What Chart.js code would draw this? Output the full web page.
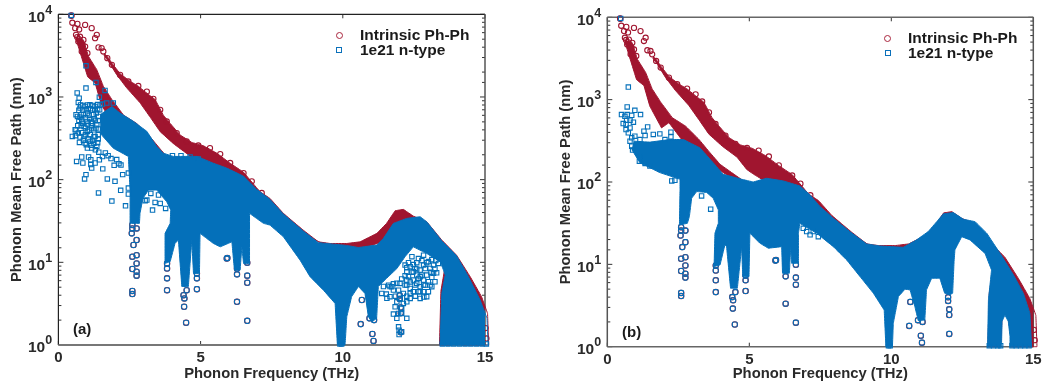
<!DOCTYPE html>
<html>
<head>
<meta charset="utf-8">
<script src="https://cdn.jsdelivr.net/npm/chart.js@4"></script>
<style>
html, body { margin: 0; padding: 0; background: #fff; }
body { position: relative; width: 1045px; height: 391px; overflow: hidden; font-family: "Liberation Sans", Arial, sans-serif; font-weight: bold; color: #1a1a1a; }
canvas { position: absolute; top: 0; }
#plotA { left: 0; }
#plotB { left: 525px; }
.txt { position: absolute; white-space: nowrap; line-height: 16px; font-size: 15.5px; }
.mark { position: absolute; box-sizing: border-box; }
.circ { width: 7px; height: 7px; border: 1.3px solid #a8243c; border-radius: 50%; }
.sq { width: 6px; height: 6px; border: 1.3px solid #0a70ba; }
</style>
</head>
<body>
<canvas id="plotA" width="525" height="391"></canvas>
<canvas id="plotB" width="520" height="391"></canvas>

<span class="mark circ" style="left:336px;top:32px"></span>
<span class="txt" style="left:360px;top:27px">Intrinsic Ph-Ph</span>
<span class="mark sq" style="left:336px;top:47px"></span>
<span class="txt" style="left:360px;top:42px">1e21 n-type</span>
<span class="txt" style="left:73px;top:321px;font-size:15px">(a)</span>

<span class="mark circ" style="left:884px;top:35px"></span>
<span class="txt" style="left:908px;top:30px">Intrinsic Ph-Ph</span>
<span class="mark sq" style="left:885px;top:50px"></span>
<span class="txt" style="left:908px;top:45px">1e21 n-type</span>
<span class="txt" style="left:622px;top:324px;font-size:15px">(b)</span>

<script>
// [frequency THz, mean free path nm]
var yTickExponents = {1: "0", 10: "1", 100: "2", 1000: "3", 10000: "4"};

// intrinsic curve is the same in both panels
var redUpperBand = [
  [1.6,3400],[1.72,3090],[1.88,2570],[2.17,1910],[2.52,1550],[2.81,1350],[3.17,1070],[3.40,933],[3.69,603],[3.93,479],
  [4.28,347],[4.69,282],[5.10,257],[5.57,209],[6.04,158],[6.51,123],[6.98,79],[7.09,71.4],[7.44,59.3],[7.91,39.1],
  [8.26,30.9],[8.61,24.5],[9.14,17.7],[9.55,16.9],[10.14,16.9],[10.61,17.7],[11.2,22.4],[11.54,29.6],[11.84,42.1],
  [12.13,43.7],[12.48,36.2],[12.95,31],[13.48,18.6],[14.0,12.2],[14.48,6.7],[14.88,3.84],[15.09,2.41],[15.13,1],
  [14.2,1],[14.2,1.4],[14.12,2.2],[14,2.6],[13.9,2.2],[13.85,1],
  [13.4,1],[13.45,4.5],[13.6,9],[13.3,15],[12.5,24],[11,16],[10,12],[8,30],[7,50],[6,80],[5.6,100],
  [5.14,125],[4.91,142],[4.57,200],[4.06,270],[3.58,380],[3.22,575],[2.87,851],[2.4,1290],[2.05,1860],[1.76,2690],[1.6,3200]
];
var redLowerBand = [
  [.6,5300],[.88,4900],[1.06,3090],[1.35,2140],[1.58,1350],[1.88,933],[2.29,603],[2.75,479],[3.22,331],[3.62,226],[3.97,164],
  [4.38,130],[4.73,107],[4.73,95],[3.0,220],[2.17,525],[1.91,454],[1.5,830],[1.29,1480],[1.03,1750],[.74,3670],[.62,5000]
];
var redDots = [
  [.45,9700],[.46,9600],[.49,7900],[.67,7650],[.94,7440],[1.17,6800],[.59,6800],[.73,6550],[1.35,5650],[1.29,5150],
  [1.52,3900],[1.41,3980],[1.58,3550],[1.72,2950],[1.88,2450],[.62,5650],[.76,5350],[.70,4680],[.88,4900],[.94,4070],
  [.82,3550],[1.02,3390],[.66,5300],[.72,5000],[.85,4300],
  [2.17,1850],[2.46,1540],[2.81,1360],[3.11,1160],[3.34,950],[3.58,700],[3.81,506],[4.16,366],[4.51,290],[4.92,259],
  [5.33,241],[5.69,204],[6.04,159],[6.51,120],[6.8,95.5],[7.15,69],[15.02,1.6],[15.05,1.2]
];
// isolated modes where both series sit on top of each other
var lowDots = [
  [2.6,28.3],[2.6,25.7],[2.75,25.7],[2.58,22.4],[2.75,18.6],[2.64,16.2],[2.75,12.2],[2.6,11.7],[2.75,9.7],[2.6,8.3],
  [2.75,7.7],[2.75,6.9],[2.6,4.5],[2.6,4.13],
  [3.82,4.6],[3.82,6.4],[3.82,8.4],[3.82,9.7],
  [4.42,2.9],[4.43,3.66],[4.49,1.86],[4.51,4.6],[4.4,4.0],
  [4.87,4.74],[4.87,6.4],[4.87,7.3],
  [6.28,3.33],[6.28,7.15],[6.28,8.4],[6.28,10.2],
  [6.64,1.96],[6.64,5.66],[6.64,6.9],[6.64,9.9],
  [5.92,11.1],[5.94,11.3],
  [10.67,3.5],[10.63,1.79],[11.04,1.36],[11.08,1.12],[10.94,2.1],[11.1,2.0],
  [12.0,3.98],[12.0,3.6],[12.04,2.84],[12.04,2.43],[12.04,1.43]
];

// panel (a)
var blueCloudA = [
  [1.47,610],[1.88,767],[2.17,638],[2.64,506],[3.11,384],[3.46,251],[3.69,209],[4.04,191],[4.87,191],[5.45,158],
  [5.92,138],[6.51,110],[6.98,76],[7.44,57.7],[7.91,38.4],[8.61,23.9],[9.14,17.3],[10.14,16],[10.55,15.1],[11.2,16.2],
  [11.43,19.5],[11.78,29.6],[12.25,34],[12.72,35.6],[12.95,31],[13.48,18.2],[14.0,12],[14.36,7.3],[14.83,3.5],[15.07,2.1],
  [15.11,1],[13.42,1],[13.48,4.2],[13.6,7],[13.54,8.05],[13.42,10.2],[12.95,12.8],[12.48,15.4],[12.19,11.7],[11.9,8.4],
  [11.54,6.4],[11.25,5.1],[11.19,2.1],[11.02,1.9],[10.9,2.2],[10.78,4.2],[10.55,5.1],[10.31,3.84],[10.14,2.2],[10.08,1],
  [9.81,1],[9.73,3.18],[9.32,4.6],[8.85,6.7],[8.5,10.6],[7.91,20.4],[7.44,28.2],[7.21,29.6],[6.72,39.1],[6.72,9.7],
  [6.51,9.7],[6.45,15.5],[6.39,8.05],[6.19,8.05],[6.1,17.7],[5.69,15.4],[5.45,16.9],[4.98,22.4],[4.96,7.3],[4.75,7.3],
  [4.69,18.6],[4.57,5.1],[4.34,5.1],[4.22,18.6],[4.1,16.9],[3.93,10.2],[3.75,9.7],[3.75,22.4],[3.93,29.6],[3.95,42.9],
  [3.81,54],[3.46,74.8],[3.17,74.8],[2.97,59.3],[2.87,39.1],[2.85,29.6],[2.52,29.6],[2.52,74.8],[2.46,191],[1.93,240],[1.47,363]
];
var blueDotsA = [
  [.45,9700],[.97,2380],[1.32,1500],[1.64,1200],[.97,1280],[1.44,995],[.66,1120],[.73,968],[.70,859],[.76,733],[.62,610],
  [.67,582],[.82,530],[.94,767],[1.11,803],[1.29,767],[1.47,803],[1.7,843],[1.93,843],[1.02,638],[1.23,610],[1.41,582],
  [.88,610],[1.0,506],[1.17,506],[1.35,461],[.59,402],[.70,366],[.49,333],[.6,340],[.76,327],[.74,282],[.9,333],[1.02,383],
  [1.17,421],[.94,277],[1.11,290],[1.29,333],[1.02,241],[1.17,241],[1.35,252],[.82,188],[1.06,188],[.64,166],[.86,159],
  [1.14,174],[1.44,174],[1.29,159],[1.14,152],[1.17,138],[1.56,135],[1.96,149],[2.13,156],[.97,115],[.92,102],[1.72,102],
  [1.99,95.5],[2.26,115],[2.46,120],[1.41,69],[2.19,74.3],[2.46,79],[1.88,55],[2.36,48.3],[2.46,67],
  [3.11,56.6],[3.4,53],[3.58,51.6],[3.31,42.9],[3.77,44.9],[3.25,68.2],[3.52,65.2],[3.05,55.6],
  [4.01,195],[4.31,195],[4.63,188],[4.92,178],[.85,700],[1.05,720],[1.2,690],[1.38,700],[1.3,520],[1.15,450],[.95,420],
  [.8,450],[.72,520],[1.25,400],[1.4,310],[1.25,275],
  [.78,800],[.86,790],[1.02,800],[1.2,790],[1.38,810],[1.55,820],[.72,690],[.98,700],[1.12,720],[1.28,705],[1.45,700],
  [.8,610],[1.08,600],[1.33,640],[.76,570],[.95,560],[1.1,550],[1.25,545],[1.4,520],[.85,480],[1.02,470],[1.2,480],
  [1.32,420],[.68,450],[.9,440],[1.08,400],[1.4,410],[.62,400],[.82,370],[.95,350],[1.12,350],[1.25,330],[1.4,350],
  [.88,300],[1.05,310],[1.2,300],[1.38,280],[.98,265],[1.15,260],[1.3,230],[1.42,215],[1.55,190],[1.65,210],[1.75,195],
  [1.85,180],[2.05,175],[2.2,150],
  [11.37,4.2],[11.61,5.3],[11.43,5.1],[11.55,3.67],[11.53,4.13],[11.78,4.61],[11.72,5.07],[11.9,3.33],[11.84,2.9],[12.01,3.66],
  [12.25,3.33],[12.37,3.66],[12.07,2.77],[11.96,2.41],[11.78,2.37],[11.9,2.1],[12.07,2.41],[12.25,2.1],[11.96,1.66],[11.98,1.51],
  [12.07,1.45],[11.98,1.34],[12.72,3.66],[12.95,3.84],[13.01,4.41],[12.84,4.41],[12.72,5.07],[12.48,4.41],[12.37,4.83],[12.25,5.31],
  [13.13,5.07],[13.24,5.82],[13.3,7.48],[13.13,6.58],[12.95,7.02],[12.84,6.1],[12.6,5.56],[12.48,6.1],[12.31,6.7],[12.25,7.69],
  [12.19,9.27],[12.37,8.85],[12.54,8.43],[12.72,8.05],[12.84,9.27],[13.01,10.2],[13.19,9.27],[13.36,9.7],[12.66,11.1],[12.84,12.2],
  [12.6,7.02],[12.78,7.02],[13.07,8.43],[12.43,11.7],[12.48,7.69],[12.66,6.38],[13.01,5.82],[12.84,5.31],[12.66,4.41],[12.13,4.21],
  [11.96,4.61],[12.25,6.1],[12.01,5.56],[11.66,3.84],[12.13,3.18],[13.19,7.35],
  [12.31,9.9],[12.48,9.4],[12.6,9.9],[12.78,10.5],[12.95,9.9],[13.13,10.8],[13.27,10.5],[12.25,8.6],[12.43,7.6],[12.6,8.3],
  [12.72,6.7],[12.9,8.4],[13.1,7.6],[13.24,8.3],[12.19,6.9],[12.37,5.8],[12.54,5.3],[12.72,4.4],[12.9,5.3],[13.07,5.3],
  [12.37,4.2],[12.19,5.3],[12.07,6.3],[11.9,5.6],[11.78,5.5],[11.66,5.1],[11.85,3.9],[12.25,3.9],[12.55,3.9],[12.85,3.8],
  [13.5,1.03],[13.7,1.03],[13.9,1.03],[14.1,1.03],[14.3,1.03],[14.5,1.03],[14.7,1.03],[14.9,1.03],[15.05,1.03],[9.9,1.03],[9.96,1.03]
];

// panel (b)
var blueCloudB = [
  [.92,313],[1.5,305],[2.21,328],[2.68,328],[3.26,260],[3.73,171],[4.08,124],[4.73,108],[5.14,100],[5.61,111],[6.2,103],
  [6.78,89.5],[7.14,69.7],[7.49,50.4],[7.96,36.3],[8.54,25],[9.13,17.7],[9.6,16.7],[10.42,16.1],[10.89,19.8],[11.3,25],
  [11.6,33],[11.83,41],[12.18,42.6],[12.54,35.3],[12.95,33],[13.36,23.9],[13.83,13.6],[14.3,7.45],[14.65,4.46],[14.88,2.55],
  [14.94,1],[14.18,1],[14.18,1.33],[14.12,2.02],[14.0,2.43],[13.9,2.02],[13.88,1],[13.39,1],[13.42,3.7],[13.53,8.55],
  [13.3,13.6],[12.77,19.8],[12.48,21.7],[12.24,15],[12.21,10.8],[12.16,4.46],[12.06,4.26],[11.88,4.46],[11.71,6.78],[11.42,6.78],
  [11.24,4.9],[11.18,2.11],[10.95,2.07],[10.83,3.07],[10.66,4.9],[10.48,4.99],[10.25,4.06],[10.07,1.92],[10.04,1],[9.81,1],
  [9.75,2.79],[9.37,4.46],[8.9,7.1],[8.43,11.3],[7.96,16.4],[7.37,23.9],[6.78,31.5],[6.73,23.9],[6.73,10.3],[6.49,10.3],
  [6.46,16.4],[6.41,7.8],[6.17,7.8],[6.14,16.4],[5.67,15.7],[5.38,18],[5.02,23.9],[4.99,7.1],[4.77,7.1],[4.73,16.4],
  [4.58,5.13],[4.34,5.13],[4.2,16.4],[4.14,17.2],[3.97,9.84],[3.76,9.4],[3.79,23.9],[3.91,31.5],[3.91,45.8],[3.73,63.5],
  [3.5,74.5],[3.15,76.6],[2.97,63.5],[2.89,38],[2.82,31.5],[2.54,30.1],[2.56,80],[2.56,108],[1.85,130],[1.15,171],[.86,248]
];
var blueDotsB = [
  [.47,9700],[.74,1420],[.7,815],[.97,743],[1.17,659],[.5,659],[.86,646],[.62,628],[.68,562],[.56,513],[.66,499],[.92,532],
  [.8,454],[1.42,467],[1.29,414],[.74,395],[1.33,367],[1.62,378],[1.85,384],[2.24,403],[2.24,353],[2.03,328],[.86,344],
  [.86,272],[.89,244],[1.15,206],[1.13,179],[1.33,168],[1.5,156],[2.27,103],[2.38,105],[.8,313],[.97,360],[1.15,328],[.66,433],
  [.7,659],[.8,562],[3.32,67.8],[3.64,46.7],[7.02,25],[7.43,21.7],[7.25,25],[6.9,27.4],[7.14,22.8],
  [13.45,1.03],[13.6,1.03],[13.75,1.03],[13.85,1.03],[14.25,1.03],[14.4,1.03],[14.55,1.03],[14.7,1.03],[14.85,1.03],[9.9,1.03],[9.96,1.03]
];

var RED = "#a0152f", BLUE = "#0470ba";

function toXY(list) {
  return list.map(function(p) { return {x: p[0], y: p[1]}; });
}
// tiny tension keeps chart.js off its fast path, that one merges points in one pixel column
function shape(list, color) {
  return {data: toXY(list), showLine: true, fill: "shape", tension: 0.0001, borderColor: color, backgroundColor: color, borderWidth: 1, pointRadius: 0, clip: false};
}
function dots(list, color, style, r) {
  return {data: toXY(list), showLine: false, pointStyle: style, pointRadius: r, borderColor: color, pointBorderWidth: 1.1, backgroundColor: "transparent", clip: false};
}

// box, inward ticks on all four sides and the 10^n labels
function framePlugin(edges, labelX) {
  return {
    id: "frame",
    beforeDatasetsDraw: function(chart) {
      var a = chart.chartArea, c = chart.ctx;
      function seg(x1, y1, x2, y2, col, w) {
        c.strokeStyle = col; c.lineWidth = w;
        c.beginPath(); c.moveTo(x1, y1); c.lineTo(x2, y2); c.stroke();
      }
      chart.scales.y.ticks.forEach(function(t) {
        var y = chart.scales.y.getPixelForValue(t.value);
        var exp = yTickExponents[t.value];
        var len = exp ? 5 : 3;
        seg(a.left, y, a.left + len, y, "#333", 1);
        seg(a.right, y, a.right - len, y, "#333", 1);
        if (exp) {
          c.fillStyle = "#2a2a2a";
          c.textAlign = "left";
          c.textBaseline = "middle";
          c.font = "bold 15.5px 'Liberation Sans'";
          c.fillText("10", labelX, y + 3);
          c.font = "bold 12.5px 'Liberation Sans'";
          c.fillText(exp, labelX + 17.2, y - 4);
        }
      });
      chart.scales.x.ticks.forEach(function(t) {
        var x = chart.scales.x.getPixelForValue(t.value);
        seg(x, a.bottom, x, a.bottom - 4, "#333", 1);
        seg(x, a.top, x, a.top + 4, "#333", 1);
      });
      seg(a.left, a.top, a.left, a.bottom, edges.left[0], edges.left[1]);
      seg(a.left, a.top, a.right, a.top, edges.top[0], edges.top[1]);
      seg(a.right, a.top, a.right, a.bottom, edges.right[0], edges.right[1]);
      seg(a.left, a.bottom, a.right, a.bottom, edges.bottom[0], edges.bottom[1]);
    }
  };
}

function makePanel(id, cloud, blueDots, box, edges) {
  var tickFont = {family: "Liberation Sans", size: 15, weight: "bold"};
  var titleFont = {family: "Liberation Sans", size: 14.8, weight: "bold"};
  return new Chart(document.getElementById(id), {
    type: "scatter",
    data: {datasets: [
      dots(lowDots, BLUE, "rectRounded", 2.9),
      dots(blueDots, BLUE, "rect", 3.1),
      shape(cloud, BLUE),
      dots(lowDots, RED, "circle", 2.7),
      dots(redDots, RED, "circle", 2.6),
      shape(redUpperBand, RED),
      shape(redLowerBand, RED)
    ]},
    options: {
      responsive: false,
      animation: false,
      events: [],
      layout: {autoPadding: false, padding: {top: box.top, right: box.right, left: 0, bottom: 0}},
      plugins: {legend: {display: false}, tooltip: {enabled: false}},
      scales: {
        x: {
          type: "linear", min: 0, max: 15,
          afterFit: function(s) { s.height = box.xHeight; },
          grid: {display: false}, border: {display: false},
          ticks: {stepSize: 5, padding: -4, color: "#2a2a2a", font: tickFont, maxRotation: 0},
          title: {display: true, text: "Phonon Frequency (THz)", color: "#2a2a2a", font: titleFont, padding: {top: 0, bottom: 8}}
        },
        y: {
          type: "logarithmic", min: 1, max: 10000,
          afterFit: function(s) { s.width = box.left; },
          grid: {display: false}, border: {display: false},
          ticks: {display: false, autoSkip: false},
          title: {display: true, text: "Phonon Mean Free Path (nm)", color: "#2a2a2a", font: titleFont, padding: {top: box.titlePad, bottom: 0}}
        }
      }
    },
    plugins: [framePlugin(edges, box.labelX)]
  });
}

makePanel("plotA", blueCloudA, blueDotsA,
  {left: 58.4, right: 40, top: 14.3, xHeight: 46, titlePad: 8, labelX: 28},
  {left: ["#222", 1.2], top: ["#222", 1.2], right: ["#555", 1.5], bottom: ["#777", 2]});
makePanel("plotB", blueCloudB, blueDotsB,
  {left: 82.3, right: 11.7, top: 17.3, xHeight: 44.3, titlePad: 31.8, labelX: 52},
  {left: ["#555", 1.5], top: ["#666", 1.5], right: ["#555", 1.5], bottom: ["#666", 1.5]});
</script>
</body>
</html>
